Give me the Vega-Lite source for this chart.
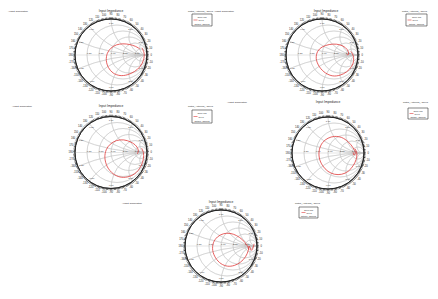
{
"$schema": "https://vega.github.io/schema/vega-lite/v6.json",
"padding": 0,
"spacing": 0,
"background": "white",
"config": {"view": {"stroke": null}, "concat": {"spacing": 0}, "font": "Liberation Sans"},
"datasets": {
"grid": [
{"gx":0.1667,"gy":0,"rad":0.8333,"t0":0,"t1":6.2832},
{"gx":0.3333,"gy":0,"rad":0.6667,"t0":0,"t1":6.2832},
{"gx":0.5,"gy":0,"rad":0.5,"t0":0,"t1":6.2832},
{"gx":0.6667,"gy":0,"rad":0.3333,"t0":0,"t1":6.2832},
{"gx":0.8333,"gy":0,"rad":0.1667,"t0":0,"t1":6.2832},
{"gx":1,"gy":5,"rad":5,"t0":3.1416,"t1":3.5364},
{"gx":1,"gy":2,"rad":2,"t0":3.1416,"t1":4.0689},
{"gx":1,"gy":1,"rad":1,"t0":3.1416,"t1":4.7124},
{"gx":1,"gy":0.5,"rad":0.5,"t0":3.1416,"t1":5.3559},
{"gx":1,"gy":0.2,"rad":0.2,"t0":3.1416,"t1":5.8884},
{"gx":1,"gy":-5,"rad":5,"t0":-0.3948,"t1":0},
{"gx":1,"gy":-2,"rad":2,"t0":-0.9273,"t1":0},
{"gx":1,"gy":-1,"rad":1,"t0":-1.5708,"t1":0},
{"gx":1,"gy":-0.5,"rad":0.5,"t0":-2.2143,"t1":0},
{"gx":1,"gy":-0.2,"rad":0.2,"t0":-2.7468,"t1":0}
],
"axl": [{"gx":-1,"gx2":1,"gy":0}],
"rim": [{"gx":0,"gy":0,"rad":1,"t0":0,"t1":6.2832}],
"ticks": [{"gx":0,"gy":0,"rad":1.025,"t0":0,"t1":6.2832}],
"ang": [
{"t":"0","gx":1.12,"gy":0},{"t":"10","gx":1.103,"gy":0.194},{"t":"20","gx":1.052,"gy":0.383},{"t":"30","gx":0.97,"gy":0.56},
{"t":"40","gx":0.858,"gy":0.72},{"t":"50","gx":0.72,"gy":0.858},{"t":"60","gx":0.56,"gy":0.97},{"t":"70","gx":0.383,"gy":1.052},
{"t":"80","gx":0.194,"gy":1.103},{"t":"90","gx":0,"gy":1.12},{"t":"100","gx":-0.194,"gy":1.103},{"t":"110","gx":-0.383,"gy":1.052},
{"t":"120","gx":-0.56,"gy":0.97},{"t":"130","gx":-0.72,"gy":0.858},{"t":"140","gx":-0.858,"gy":0.72},{"t":"150","gx":-0.97,"gy":0.56},
{"t":"160","gx":-1.052,"gy":0.383},{"t":"170","gx":-1.103,"gy":0.194},{"t":"180","gx":-1.12,"gy":0},{"t":"-170","gx":-1.103,"gy":-0.194},
{"t":"-160","gx":-1.052,"gy":-0.383},{"t":"-150","gx":-0.97,"gy":-0.56},{"t":"-140","gx":-0.858,"gy":-0.72},{"t":"-130","gx":-0.72,"gy":-0.858},
{"t":"-120","gx":-0.56,"gy":-0.97},{"t":"-110","gx":-0.383,"gy":-1.052},{"t":"-100","gx":-0.194,"gy":-1.103},{"t":"-90","gx":0,"gy":-1.12},
{"t":"-80","gx":0.194,"gy":-1.103},{"t":"-70","gx":0.383,"gy":-1.052},{"t":"-60","gx":0.56,"gy":-0.97},{"t":"-50","gx":0.72,"gy":-0.858},
{"t":"-40","gx":0.858,"gy":-0.72},{"t":"-30","gx":0.97,"gy":-0.56},{"t":"-20","gx":1.052,"gy":-0.383},{"t":"-10","gx":1.103,"gy":-0.194}
],
"lab": [
{"k":"r","t":"0.20","gx":-0.667,"gy":0.02},{"k":"r","t":"0.50","gx":-0.333,"gy":0.02},{"k":"r","t":"1.00","gx":0,"gy":0.02},
{"k":"r","t":"2.00","gx":0.333,"gy":0.02},{"k":"r","t":"5.00","gx":0.667,"gy":0.02},
{"k":"x","t":"0.20","gx":-0.83,"gy":0.35},{"k":"x","t":"0.50","gx":-0.54,"gy":0.72},{"k":"x","t":"1.00","gx":0,"gy":0.9},
{"k":"x","t":"2.00","gx":0.54,"gy":0.72},{"k":"x","t":"5.00","gx":0.83,"gy":0.35},
{"k":"x","t":"-0.20","gx":-0.83,"gy":-0.35},{"k":"x","t":"-0.50","gx":-0.54,"gy":-0.72},{"k":"x","t":"-1.00","gx":0,"gy":-0.9},
{"k":"x","t":"-2.00","gx":0.54,"gy":-0.72},{"k":"x","t":"-5.00","gx":0.83,"gy":-0.35}
],
"curve": [
{"p":1,"i":0,"gx":0.86,"gy":0.2},{"p":1,"i":1,"gx":0.92,"gy":0.05},{"p":1,"i":2,"gx":0.9,"gy":-0.15},{"p":1,"i":3,"gx":0.8,"gy":-0.33},
{"p":1,"i":4,"gx":0.65,"gy":-0.46},{"p":1,"i":5,"gx":0.45,"gy":-0.55},{"p":1,"i":6,"gx":0.25,"gy":-0.57},{"p":1,"i":7,"gx":0.06,"gy":-0.5},
{"p":1,"i":8,"gx":-0.07,"gy":-0.35},{"p":1,"i":9,"gx":-0.13,"gy":-0.15},{"p":1,"i":10,"gx":-0.1,"gy":0.05},{"p":1,"i":11,"gx":0,"gy":0.19},
{"p":1,"i":12,"gx":0.15,"gy":0.28},{"p":1,"i":13,"gx":0.33,"gy":0.31},{"p":1,"i":14,"gx":0.52,"gy":0.29},{"p":1,"i":15,"gx":0.68,"gy":0.24},
{"p":1,"i":16,"gx":0.8,"gy":0.17},
{"p":2,"i":0,"gx":0.8,"gy":0.1},{"p":2,"i":1,"gx":0.86,"gy":0},{"p":2,"i":2,"gx":0.88,"gy":-0.15},{"p":2,"i":3,"gx":0.82,"gy":-0.32},
{"p":2,"i":4,"gx":0.68,"gy":-0.47},{"p":2,"i":5,"gx":0.5,"gy":-0.56},{"p":2,"i":6,"gx":0.3,"gy":-0.58},{"p":2,"i":7,"gx":0.1,"gy":-0.5},
{"p":2,"i":8,"gx":-0.07,"gy":-0.33},{"p":2,"i":9,"gx":-0.16,"gy":-0.1},{"p":2,"i":10,"gx":-0.12,"gy":0.1},{"p":2,"i":11,"gx":0,"gy":0.22},
{"p":2,"i":12,"gx":0.2,"gy":0.29},{"p":2,"i":13,"gx":0.4,"gy":0.3},{"p":2,"i":14,"gx":0.58,"gy":0.25},{"p":2,"i":15,"gx":0.7,"gy":0.15},
{"p":2,"i":16,"gx":0.74,"gy":0.05},{"p":2,"i":17,"gx":0.72,"gy":0},{"p":2,"i":18,"gx":0.68,"gy":0.03},
{"p":3,"i":0,"gx":0.85,"gy":0.12},{"p":3,"i":1,"gx":0.9,"gy":0},{"p":3,"i":2,"gx":0.9,"gy":-0.17},{"p":3,"i":3,"gx":0.82,"gy":-0.4},
{"p":3,"i":4,"gx":0.66,"gy":-0.59},{"p":3,"i":5,"gx":0.45,"gy":-0.68},{"p":3,"i":6,"gx":0.25,"gy":-0.68},{"p":3,"i":7,"gx":0.06,"gy":-0.59},
{"p":3,"i":8,"gx":-0.1,"gy":-0.4},{"p":3,"i":9,"gx":-0.17,"gy":-0.14},{"p":3,"i":10,"gx":-0.13,"gy":0.08},{"p":3,"i":11,"gx":-0.02,"gy":0.23},
{"p":3,"i":12,"gx":0.15,"gy":0.33},{"p":3,"i":13,"gx":0.35,"gy":0.35},{"p":3,"i":14,"gx":0.55,"gy":0.29},{"p":3,"i":15,"gx":0.7,"gy":0.18},
{"p":3,"i":16,"gx":0.76,"gy":0.05},{"p":3,"i":17,"gx":0.73,"gy":-0.04},
{"p":4,"i":0,"gx":0.75,"gy":0.12},{"p":4,"i":1,"gx":0.8,"gy":0},{"p":4,"i":2,"gx":0.78,"gy":-0.18},{"p":4,"i":3,"gx":0.7,"gy":-0.35},
{"p":4,"i":4,"gx":0.56,"gy":-0.51},{"p":4,"i":5,"gx":0.38,"gy":-0.59},{"p":4,"i":6,"gx":0.18,"gy":-0.59},{"p":4,"i":7,"gx":0,"gy":-0.51},
{"p":4,"i":8,"gx":-0.15,"gy":-0.35},{"p":4,"i":9,"gx":-0.24,"gy":-0.14},{"p":4,"i":10,"gx":-0.24,"gy":0.09},{"p":4,"i":11,"gx":-0.15,"gy":0.29},
{"p":4,"i":12,"gx":0,"gy":0.41},{"p":4,"i":13,"gx":0.18,"gy":0.46},{"p":4,"i":14,"gx":0.38,"gy":0.43},{"p":4,"i":15,"gx":0.56,"gy":0.31},
{"p":4,"i":16,"gx":0.7,"gy":0.14},{"p":4,"i":17,"gx":0.76,"gy":0},{"p":4,"i":18,"gx":0.72,"gy":-0.06},{"p":4,"i":19,"gx":0.7,"gy":0.02},
{"p":5,"i":0,"gx":0.92,"gy":0.06},{"p":5,"i":1,"gx":0.85,"gy":-0.12},{"p":5,"i":2,"gx":0.78,"gy":0},{"p":5,"i":3,"gx":0.76,"gy":-0.12},
{"p":5,"i":4,"gx":0.68,"gy":-0.3},{"p":5,"i":5,"gx":0.54,"gy":-0.45},{"p":5,"i":6,"gx":0.37,"gy":-0.54},{"p":5,"i":7,"gx":0.18,"gy":-0.56},
{"p":5,"i":8,"gx":0,"gy":-0.49},{"p":5,"i":9,"gx":-0.15,"gy":-0.33},{"p":5,"i":10,"gx":-0.23,"gy":-0.12},{"p":5,"i":11,"gx":-0.21,"gy":0.09},
{"p":5,"i":12,"gx":-0.1,"gy":0.25},{"p":5,"i":13,"gx":0.07,"gy":0.34},{"p":5,"i":14,"gx":0.25,"gy":0.35},{"p":5,"i":15,"gx":0.43,"gy":0.29},
{"p":5,"i":16,"gx":0.6,"gy":0.17},{"p":5,"i":17,"gx":0.72,"gy":0.02},{"p":5,"i":18,"gx":0.78,"gy":-0.1}
],
"hdr": [
{"p":1,"k":"L","t":"Ansoft Corporation","gx":-2.861,"gy":1.222},{"p":1,"k":"T","t":"Input Impedance","gx":0,"gy":1.222},
{"p":1,"k":"L","t":"Patch_Antenna_ADKv1","gx":2.139,"gy":1.222},{"p":1,"k":"C","t":"Curve Info","gx":2.528,"gy":1.069},
{"p":1,"k":"G","t":"S(1,1)","gx":2.431,"gy":0.972},{"p":1,"k":"C","t":"Setup1 : Sweep1","gx":2.528,"gy":0.875},
{"p":2,"k":"L","t":"Ansoft Corporation","gx":-3.0,"gy":1.222},{"p":2,"k":"T","t":"Input Impedance","gx":0.111,"gy":1.222},
{"p":2,"k":"L","t":"Patch_Antenna_ADKv1","gx":2.222,"gy":1.222},{"p":2,"k":"C","t":"Curve Info","gx":2.625,"gy":1.069},
{"p":2,"k":"G","t":"S(1,1)","gx":2.514,"gy":0.972},{"p":2,"k":"C","t":"Setup1 : Sweep1","gx":2.625,"gy":0.875},
{"p":3,"k":"L","t":"Ansoft Corporation","gx":-2.75,"gy":1.292},{"p":3,"k":"T","t":"Input Impedance","gx":0,"gy":1.292},
{"p":3,"k":"L","t":"Patch_Antenna_ADKv1","gx":2.139,"gy":1.292},{"p":3,"k":"C","t":"Curve Info","gx":2.528,"gy":1.111},
{"p":3,"k":"G","t":"S(1,1)","gx":2.431,"gy":1.0},{"p":3,"k":"C","t":"Setup1 : Sweep1","gx":2.528,"gy":0.889},
{"p":4,"k":"L","t":"Ansoft Corporation","gx":-2.806,"gy":1.417},{"p":4,"k":"T","t":"Input Impedance","gx":0,"gy":1.417},
{"p":4,"k":"L","t":"Patch_Antenna_ADKv1","gx":2.083,"gy":1.417},{"p":4,"k":"C","t":"Curve Info","gx":2.5,"gy":1.181},
{"p":4,"k":"G","t":"S(1,1)","gx":2.403,"gy":1.097},{"p":4,"k":"C","t":"Setup1 : Sweep1","gx":2.5,"gy":1.014},
{"p":5,"k":"L","t":"Ansoft Corporation","gx":-2.75,"gy":1.194},{"p":5,"k":"T","t":"Input Impedance","gx":0,"gy":1.222},
{"p":5,"k":"L","t":"Patch_Antenna_ADKv1","gx":2.056,"gy":1.194},{"p":5,"k":"C","t":"Curve Info","gx":2.431,"gy":1.014},
{"p":5,"k":"G","t":"S(1,1)","gx":2.375,"gy":0.931},{"p":5,"k":"C","t":"Setup1 : Sweep1","gx":2.431,"gy":0.847}
],
"box": [
{"p":1,"gx":2.25,"gx2":2.806,"gy":0.806,"gy2":1.139},{"p":2,"gx":2.333,"gx2":2.917,"gy":0.806,"gy2":1.139},
{"p":3,"gx":2.25,"gx2":2.806,"gy":0.819,"gy2":1.181},{"p":4,"gx":2.222,"gx2":2.778,"gy":0.944,"gy2":1.25},
{"p":5,"gx":2.167,"gx2":2.694,"gy":0.778,"gy2":1.083}
],
"lline": [
{"p":1,"gx":2.292,"gx2":2.403,"gy":0.972},{"p":2,"gx":2.375,"gx2":2.486,"gy":0.972},{"p":3,"gx":2.292,"gx2":2.403,"gy":1.0},
{"p":4,"gx":2.264,"gx2":2.375,"gy":1.097},{"p":5,"gx":2.236,"gx2":2.347,"gy":0.931}
]
},
"vconcat": [
{"hconcat": [
{"width":219,"height":97,
"encoding":{"x":{"field":"gx","type":"quantitative","axis":null,"scale":{"domain":[-3.0833,3.0],"nice":false,"zero":false}},
"y":{"field":"gy","type":"quantitative","axis":null,"scale":{"domain":[-1.1667,1.5278],"nice":false,"zero":false}}},
"layer":[
{"data":{"name":"grid"},"mark":{"type":"arc","filled":false,"stroke":"#c4c4c4","strokeWidth":0.45,"clip":true},"encoding":{"theta":{"field":"t0","type":"quantitative","scale":null},"theta2":{"field":"t1"},"radius":{"field":"rad","type":"quantitative","scale":{"type":"linear","domain":[0,1],"range":[0,36]}},"radius2":{"field":"rad"}}},
{"data":{"name":"axl"},"mark":{"type":"rule","stroke":"#c4c4c4","strokeWidth":0.45},"encoding":{"x2":{"field":"gx2"}}},
{"data":{"name":"ticks"},"mark":{"type":"arc","filled":false,"stroke":"#333","strokeWidth":1.6,"strokeDash":[0.35,1.0]},"encoding":{"theta":{"field":"t0","type":"quantitative","scale":null},"theta2":{"field":"t1"},"radius":{"field":"rad","type":"quantitative","scale":{"type":"linear","domain":[0,1],"range":[0,36]}},"radius2":{"field":"rad"}}},
{"data":{"name":"rim"},"mark":{"type":"arc","filled":false,"stroke":"#222","strokeWidth":0.9},"encoding":{"theta":{"field":"t0","type":"quantitative","scale":null},"theta2":{"field":"t1"},"radius":{"field":"rad","type":"quantitative","scale":{"type":"linear","domain":[0,1],"range":[0,36]}},"radius2":{"field":"rad"}}},
{"data":{"name":"ang"},"mark":{"type":"text","fontSize":2.6,"fill":"#222"},"encoding":{"text":{"field":"t"}}},
{"data":{"name":"lab"},"transform":[{"filter":"datum.k=='r'"}],"mark":{"type":"text","fontSize":2.3,"align":"left","baseline":"bottom","fill":"#333"},"encoding":{"text":{"field":"t"}}},
{"data":{"name":"lab"},"transform":[{"filter":"datum.k=='x'"}],"mark":{"type":"text","fontSize":2.3,"fill":"#333"},"encoding":{"text":{"field":"t"}}},
{"data":{"name":"curve"},"transform":[{"filter":"datum.p==1"}],"mark":{"type":"line","stroke":"#e03a3a","strokeWidth":0.8,"interpolate":"catmull-rom"},"encoding":{"order":{"field":"i"}}},
{"data":{"name":"box"},"transform":[{"filter":"datum.p==1"}],"mark":{"type":"rect","fill":"white","stroke":"#333","strokeWidth":0.6},"encoding":{"x2":{"field":"gx2"},"y2":{"field":"gy2"}}},
{"data":{"name":"lline"},"transform":[{"filter":"datum.p==1"}],"mark":{"type":"rule","stroke":"#e03a3a","strokeWidth":0.6},"encoding":{"x2":{"field":"gx2"}}},
{"data":{"name":"hdr"},"transform":[{"filter":"datum.p==1 && datum.k=='L'"}],"mark":{"type":"text","fontSize":2.4,"align":"left","fill":"#222"},"encoding":{"text":{"field":"t"}}},
{"data":{"name":"hdr"},"transform":[{"filter":"datum.p==1 && datum.k=='T'"}],"mark":{"type":"text","fontSize":3.3,"fill":"#222"},"encoding":{"text":{"field":"t"}}},
{"data":{"name":"hdr"},"transform":[{"filter":"datum.p==1 && datum.k=='G'"}],"mark":{"type":"text","fontSize":2,"align":"left","fill":"#222"},"encoding":{"text":{"field":"t"}}},
{"data":{"name":"hdr"},"transform":[{"filter":"datum.p==1 && datum.k=='C'"}],"mark":{"type":"text","fontSize":2,"fill":"#222"},"encoding":{"text":{"field":"t"}}}
]},
{"width":219,"height":97,
"encoding":{"x":{"field":"gx","type":"quantitative","axis":null,"scale":{"domain":[-2.8611,3.2222],"nice":false,"zero":false}},
"y":{"field":"gy","type":"quantitative","axis":null,"scale":{"domain":[-1.1667,1.5278],"nice":false,"zero":false}}},
"layer":[
{"data":{"name":"grid"},"mark":{"type":"arc","filled":false,"stroke":"#c4c4c4","strokeWidth":0.45,"clip":true},"encoding":{"theta":{"field":"t0","type":"quantitative","scale":null},"theta2":{"field":"t1"},"radius":{"field":"rad","type":"quantitative","scale":{"type":"linear","domain":[0,1],"range":[0,36]}},"radius2":{"field":"rad"}}},
{"data":{"name":"axl"},"mark":{"type":"rule","stroke":"#c4c4c4","strokeWidth":0.45},"encoding":{"x2":{"field":"gx2"}}},
{"data":{"name":"ticks"},"mark":{"type":"arc","filled":false,"stroke":"#333","strokeWidth":1.6,"strokeDash":[0.35,1.0]},"encoding":{"theta":{"field":"t0","type":"quantitative","scale":null},"theta2":{"field":"t1"},"radius":{"field":"rad","type":"quantitative","scale":{"type":"linear","domain":[0,1],"range":[0,36]}},"radius2":{"field":"rad"}}},
{"data":{"name":"rim"},"mark":{"type":"arc","filled":false,"stroke":"#222","strokeWidth":0.9},"encoding":{"theta":{"field":"t0","type":"quantitative","scale":null},"theta2":{"field":"t1"},"radius":{"field":"rad","type":"quantitative","scale":{"type":"linear","domain":[0,1],"range":[0,36]}},"radius2":{"field":"rad"}}},
{"data":{"name":"ang"},"mark":{"type":"text","fontSize":2.6,"fill":"#222"},"encoding":{"text":{"field":"t"}}},
{"data":{"name":"lab"},"transform":[{"filter":"datum.k=='r'"}],"mark":{"type":"text","fontSize":2.3,"align":"left","baseline":"bottom","fill":"#333"},"encoding":{"text":{"field":"t"}}},
{"data":{"name":"lab"},"transform":[{"filter":"datum.k=='x'"}],"mark":{"type":"text","fontSize":2.3,"fill":"#333"},"encoding":{"text":{"field":"t"}}},
{"data":{"name":"curve"},"transform":[{"filter":"datum.p==2"}],"mark":{"type":"line","stroke":"#e03a3a","strokeWidth":0.8,"interpolate":"catmull-rom"},"encoding":{"order":{"field":"i"}}},
{"data":{"name":"box"},"transform":[{"filter":"datum.p==2"}],"mark":{"type":"rect","fill":"white","stroke":"#333","strokeWidth":0.6},"encoding":{"x2":{"field":"gx2"},"y2":{"field":"gy2"}}},
{"data":{"name":"lline"},"transform":[{"filter":"datum.p==2"}],"mark":{"type":"rule","stroke":"#e03a3a","strokeWidth":0.6},"encoding":{"x2":{"field":"gx2"}}},
{"data":{"name":"hdr"},"transform":[{"filter":"datum.p==2 && datum.k=='L'"}],"mark":{"type":"text","fontSize":2.4,"align":"left","fill":"#222"},"encoding":{"text":{"field":"t"}}},
{"data":{"name":"hdr"},"transform":[{"filter":"datum.p==2 && datum.k=='T'"}],"mark":{"type":"text","fontSize":3.3,"fill":"#222"},"encoding":{"text":{"field":"t"}}},
{"data":{"name":"hdr"},"transform":[{"filter":"datum.p==2 && datum.k=='G'"}],"mark":{"type":"text","fontSize":2,"align":"left","fill":"#222"},"encoding":{"text":{"field":"t"}}},
{"data":{"name":"hdr"},"transform":[{"filter":"datum.p==2 && datum.k=='C'"}],"mark":{"type":"text","fontSize":2,"fill":"#222"},"encoding":{"text":{"field":"t"}}}
]}
], "spacing": 0, "bounds": "flush"},
{"hconcat": [
{"width":219,"height":99,
"encoding":{"x":{"field":"gx","type":"quantitative","axis":null,"scale":{"domain":[-3.0833,3.0],"nice":false,"zero":false}},
"y":{"field":"gy","type":"quantitative","axis":null,"scale":{"domain":[-1.2083,1.5417],"nice":false,"zero":false}}},
"layer":[
{"data":{"name":"grid"},"mark":{"type":"arc","filled":false,"stroke":"#c4c4c4","strokeWidth":0.45,"clip":true},"encoding":{"theta":{"field":"t0","type":"quantitative","scale":null},"theta2":{"field":"t1"},"radius":{"field":"rad","type":"quantitative","scale":{"type":"linear","domain":[0,1],"range":[0,36]}},"radius2":{"field":"rad"}}},
{"data":{"name":"axl"},"mark":{"type":"rule","stroke":"#c4c4c4","strokeWidth":0.45},"encoding":{"x2":{"field":"gx2"}}},
{"data":{"name":"ticks"},"mark":{"type":"arc","filled":false,"stroke":"#333","strokeWidth":1.6,"strokeDash":[0.35,1.0]},"encoding":{"theta":{"field":"t0","type":"quantitative","scale":null},"theta2":{"field":"t1"},"radius":{"field":"rad","type":"quantitative","scale":{"type":"linear","domain":[0,1],"range":[0,36]}},"radius2":{"field":"rad"}}},
{"data":{"name":"rim"},"mark":{"type":"arc","filled":false,"stroke":"#222","strokeWidth":0.9},"encoding":{"theta":{"field":"t0","type":"quantitative","scale":null},"theta2":{"field":"t1"},"radius":{"field":"rad","type":"quantitative","scale":{"type":"linear","domain":[0,1],"range":[0,36]}},"radius2":{"field":"rad"}}},
{"data":{"name":"ang"},"mark":{"type":"text","fontSize":2.6,"fill":"#222"},"encoding":{"text":{"field":"t"}}},
{"data":{"name":"lab"},"transform":[{"filter":"datum.k=='r'"}],"mark":{"type":"text","fontSize":2.3,"align":"left","baseline":"bottom","fill":"#333"},"encoding":{"text":{"field":"t"}}},
{"data":{"name":"lab"},"transform":[{"filter":"datum.k=='x'"}],"mark":{"type":"text","fontSize":2.3,"fill":"#333"},"encoding":{"text":{"field":"t"}}},
{"data":{"name":"curve"},"transform":[{"filter":"datum.p==3"}],"mark":{"type":"line","stroke":"#e03a3a","strokeWidth":0.8,"interpolate":"catmull-rom"},"encoding":{"order":{"field":"i"}}},
{"data":{"name":"box"},"transform":[{"filter":"datum.p==3"}],"mark":{"type":"rect","fill":"white","stroke":"#333","strokeWidth":0.6},"encoding":{"x2":{"field":"gx2"},"y2":{"field":"gy2"}}},
{"data":{"name":"lline"},"transform":[{"filter":"datum.p==3"}],"mark":{"type":"rule","stroke":"#e03a3a","strokeWidth":0.6},"encoding":{"x2":{"field":"gx2"}}},
{"data":{"name":"hdr"},"transform":[{"filter":"datum.p==3 && datum.k=='L'"}],"mark":{"type":"text","fontSize":2.4,"align":"left","fill":"#222"},"encoding":{"text":{"field":"t"}}},
{"data":{"name":"hdr"},"transform":[{"filter":"datum.p==3 && datum.k=='T'"}],"mark":{"type":"text","fontSize":3.3,"fill":"#222"},"encoding":{"text":{"field":"t"}}},
{"data":{"name":"hdr"},"transform":[{"filter":"datum.p==3 && datum.k=='G'"}],"mark":{"type":"text","fontSize":2,"align":"left","fill":"#222"},"encoding":{"text":{"field":"t"}}},
{"data":{"name":"hdr"},"transform":[{"filter":"datum.p==3 && datum.k=='C'"}],"mark":{"type":"text","fontSize":2,"fill":"#222"},"encoding":{"text":{"field":"t"}}}
]},
{"width":219,"height":99,
"encoding":{"x":{"field":"gx","type":"quantitative","axis":null,"scale":{"domain":[-3.0278,3.0556],"nice":false,"zero":false}},
"y":{"field":"gy","type":"quantitative","axis":null,"scale":{"domain":[-1.1944,1.5556],"nice":false,"zero":false}}},
"layer":[
{"data":{"name":"grid"},"mark":{"type":"arc","filled":false,"stroke":"#c4c4c4","strokeWidth":0.45,"clip":true},"encoding":{"theta":{"field":"t0","type":"quantitative","scale":null},"theta2":{"field":"t1"},"radius":{"field":"rad","type":"quantitative","scale":{"type":"linear","domain":[0,1],"range":[0,36]}},"radius2":{"field":"rad"}}},
{"data":{"name":"axl"},"mark":{"type":"rule","stroke":"#c4c4c4","strokeWidth":0.45},"encoding":{"x2":{"field":"gx2"}}},
{"data":{"name":"ticks"},"mark":{"type":"arc","filled":false,"stroke":"#333","strokeWidth":1.6,"strokeDash":[0.35,1.0]},"encoding":{"theta":{"field":"t0","type":"quantitative","scale":null},"theta2":{"field":"t1"},"radius":{"field":"rad","type":"quantitative","scale":{"type":"linear","domain":[0,1],"range":[0,36]}},"radius2":{"field":"rad"}}},
{"data":{"name":"rim"},"mark":{"type":"arc","filled":false,"stroke":"#222","strokeWidth":0.9},"encoding":{"theta":{"field":"t0","type":"quantitative","scale":null},"theta2":{"field":"t1"},"radius":{"field":"rad","type":"quantitative","scale":{"type":"linear","domain":[0,1],"range":[0,36]}},"radius2":{"field":"rad"}}},
{"data":{"name":"ang"},"mark":{"type":"text","fontSize":2.6,"fill":"#222"},"encoding":{"text":{"field":"t"}}},
{"data":{"name":"lab"},"transform":[{"filter":"datum.k=='r'"}],"mark":{"type":"text","fontSize":2.3,"align":"left","baseline":"bottom","fill":"#333"},"encoding":{"text":{"field":"t"}}},
{"data":{"name":"lab"},"transform":[{"filter":"datum.k=='x'"}],"mark":{"type":"text","fontSize":2.3,"fill":"#333"},"encoding":{"text":{"field":"t"}}},
{"data":{"name":"curve"},"transform":[{"filter":"datum.p==4"}],"mark":{"type":"line","stroke":"#e03a3a","strokeWidth":0.8,"interpolate":"catmull-rom"},"encoding":{"order":{"field":"i"}}},
{"data":{"name":"box"},"transform":[{"filter":"datum.p==4"}],"mark":{"type":"rect","fill":"white","stroke":"#333","strokeWidth":0.6},"encoding":{"x2":{"field":"gx2"},"y2":{"field":"gy2"}}},
{"data":{"name":"lline"},"transform":[{"filter":"datum.p==4"}],"mark":{"type":"rule","stroke":"#e03a3a","strokeWidth":0.6},"encoding":{"x2":{"field":"gx2"}}},
{"data":{"name":"hdr"},"transform":[{"filter":"datum.p==4 && datum.k=='L'"}],"mark":{"type":"text","fontSize":2.4,"align":"left","fill":"#222"},"encoding":{"text":{"field":"t"}}},
{"data":{"name":"hdr"},"transform":[{"filter":"datum.p==4 && datum.k=='T'"}],"mark":{"type":"text","fontSize":3.3,"fill":"#222"},"encoding":{"text":{"field":"t"}}},
{"data":{"name":"hdr"},"transform":[{"filter":"datum.p==4 && datum.k=='G'"}],"mark":{"type":"text","fontSize":2,"align":"left","fill":"#222"},"encoding":{"text":{"field":"t"}}},
{"data":{"name":"hdr"},"transform":[{"filter":"datum.p==4 && datum.k=='C'"}],"mark":{"type":"text","fontSize":2,"fill":"#222"},"encoding":{"text":{"field":"t"}}}
]}
], "spacing": 0, "bounds": "flush"},
{"width":438,"height":103,
"encoding":{"x":{"field":"gx","type":"quantitative","axis":null,"scale":{"domain":[-6.1389,6.0278],"nice":false,"zero":false}},
"y":{"field":"gy","type":"quantitative","axis":null,"scale":{"domain":[-1.4722,1.3889],"nice":false,"zero":false}}},
"layer":[
{"data":{"name":"grid"},"mark":{"type":"arc","filled":false,"stroke":"#c4c4c4","strokeWidth":0.45,"clip":true},"encoding":{"theta":{"field":"t0","type":"quantitative","scale":null},"theta2":{"field":"t1"},"radius":{"field":"rad","type":"quantitative","scale":{"type":"linear","domain":[0,1],"range":[0,36]}},"radius2":{"field":"rad"}}},
{"data":{"name":"axl"},"mark":{"type":"rule","stroke":"#c4c4c4","strokeWidth":0.45},"encoding":{"x2":{"field":"gx2"}}},
{"data":{"name":"ticks"},"mark":{"type":"arc","filled":false,"stroke":"#333","strokeWidth":1.6,"strokeDash":[0.35,1.0]},"encoding":{"theta":{"field":"t0","type":"quantitative","scale":null},"theta2":{"field":"t1"},"radius":{"field":"rad","type":"quantitative","scale":{"type":"linear","domain":[0,1],"range":[0,36]}},"radius2":{"field":"rad"}}},
{"data":{"name":"rim"},"mark":{"type":"arc","filled":false,"stroke":"#222","strokeWidth":0.9},"encoding":{"theta":{"field":"t0","type":"quantitative","scale":null},"theta2":{"field":"t1"},"radius":{"field":"rad","type":"quantitative","scale":{"type":"linear","domain":[0,1],"range":[0,36]}},"radius2":{"field":"rad"}}},
{"data":{"name":"ang"},"mark":{"type":"text","fontSize":2.6,"fill":"#222"},"encoding":{"text":{"field":"t"}}},
{"data":{"name":"lab"},"transform":[{"filter":"datum.k=='r'"}],"mark":{"type":"text","fontSize":2.3,"align":"left","baseline":"bottom","fill":"#333"},"encoding":{"text":{"field":"t"}}},
{"data":{"name":"lab"},"transform":[{"filter":"datum.k=='x'"}],"mark":{"type":"text","fontSize":2.3,"fill":"#333"},"encoding":{"text":{"field":"t"}}},
{"data":{"name":"curve"},"transform":[{"filter":"datum.p==5"}],"mark":{"type":"line","stroke":"#e03a3a","strokeWidth":0.8,"interpolate":"catmull-rom"},"encoding":{"order":{"field":"i"}}},
{"data":{"name":"box"},"transform":[{"filter":"datum.p==5"}],"mark":{"type":"rect","fill":"white","stroke":"#333","strokeWidth":0.6},"encoding":{"x2":{"field":"gx2"},"y2":{"field":"gy2"}}},
{"data":{"name":"lline"},"transform":[{"filter":"datum.p==5"}],"mark":{"type":"rule","stroke":"#e03a3a","strokeWidth":0.6},"encoding":{"x2":{"field":"gx2"}}},
{"data":{"name":"hdr"},"transform":[{"filter":"datum.p==5 && datum.k=='L'"}],"mark":{"type":"text","fontSize":2.4,"align":"left","fill":"#222"},"encoding":{"text":{"field":"t"}}},
{"data":{"name":"hdr"},"transform":[{"filter":"datum.p==5 && datum.k=='T'"}],"mark":{"type":"text","fontSize":3.3,"fill":"#222"},"encoding":{"text":{"field":"t"}}},
{"data":{"name":"hdr"},"transform":[{"filter":"datum.p==5 && datum.k=='G'"}],"mark":{"type":"text","fontSize":2,"align":"left","fill":"#222"},"encoding":{"text":{"field":"t"}}},
{"data":{"name":"hdr"},"transform":[{"filter":"datum.p==5 && datum.k=='C'"}],"mark":{"type":"text","fontSize":2,"fill":"#222"},"encoding":{"text":{"field":"t"}}}
]}
]
}
